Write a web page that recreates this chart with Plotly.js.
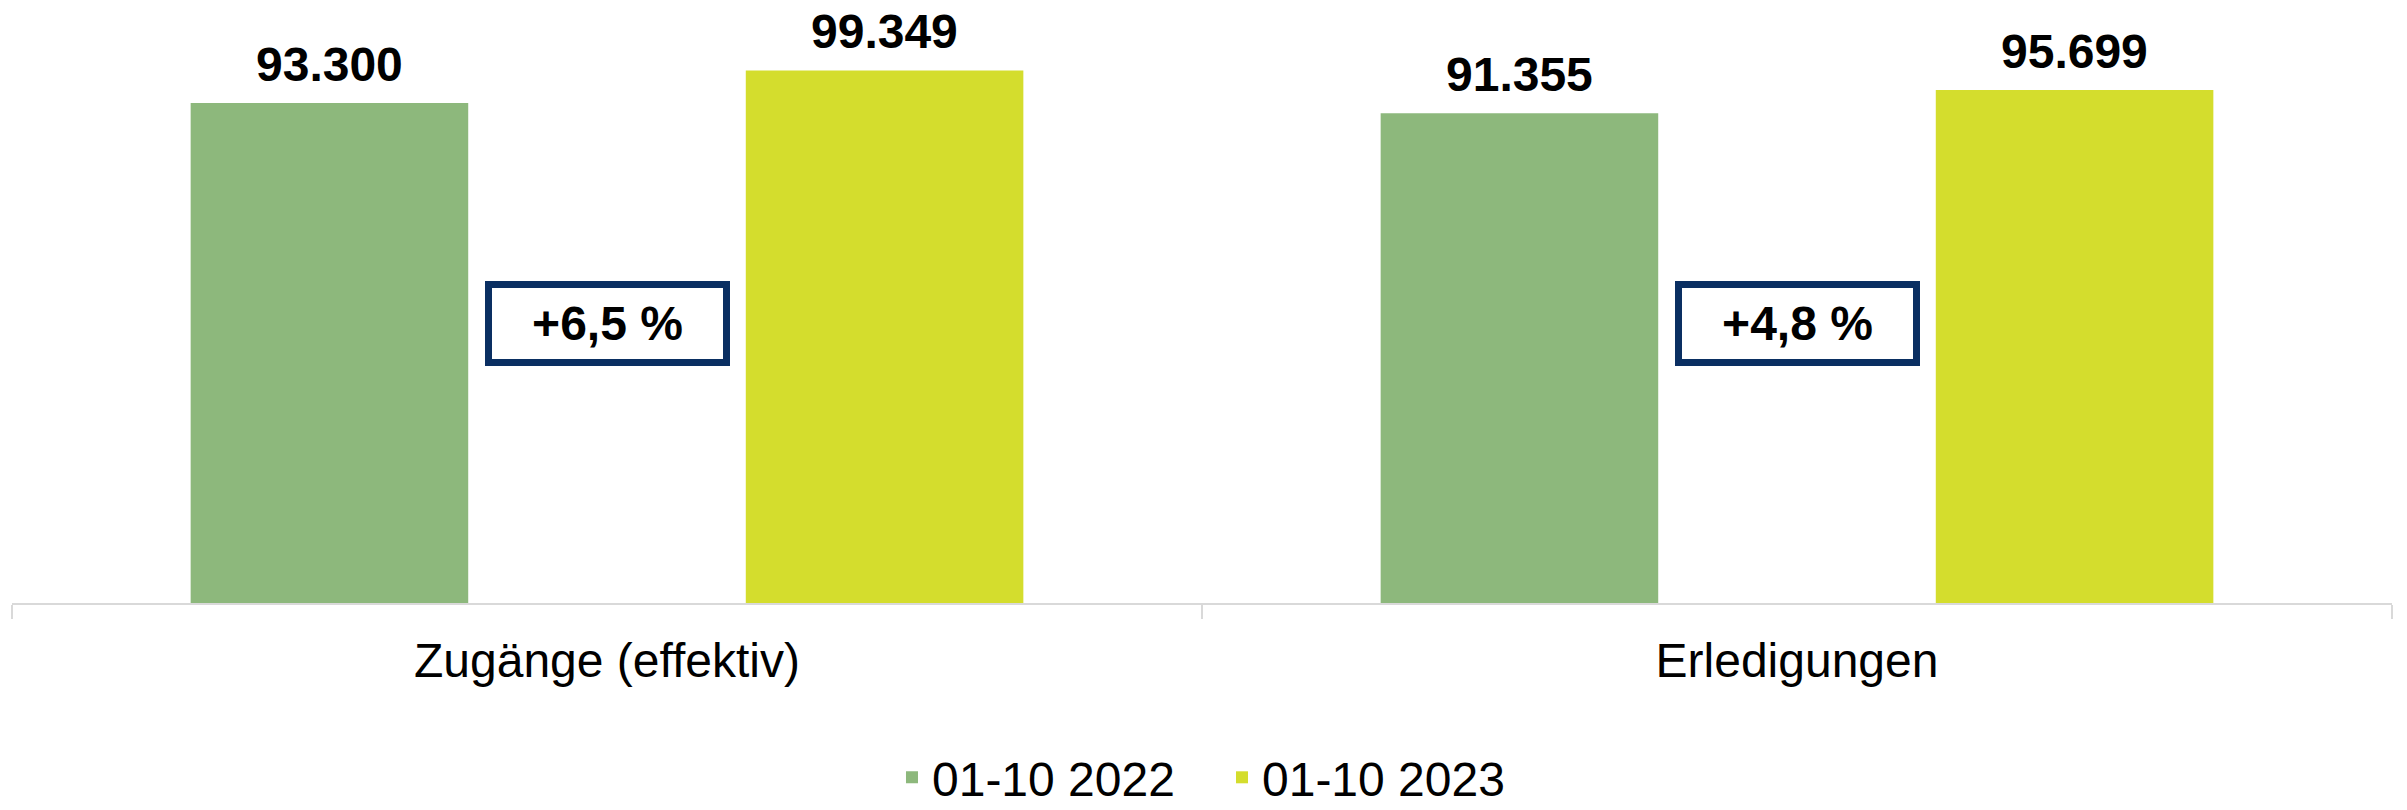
<!DOCTYPE html>
<html>
<head>
<meta charset="utf-8">
<script src="https://cdn.plot.ly/plotly-3.0.1.min.js"></script>
<style>
  html, body { margin: 0; padding: 0; background: #ffffff; }
  #chart { width: 2407px; height: 810px; }
</style>
</head>
<body>
<div id="chart"></div>
<script>
// ---- data ----
const categories = ["Zugänge (effektiv)", "Erledigungen"];
const seriesNames = ["01-10 2022", "01-10 2023"];
const values2022 = [93300, 91355];
const values2023 = [99349, 95699];
const changeLabels = ["+6,5 %", "+4,8 %"];

// ---- styles ----
const FONT = "Liberation Sans, Arial, sans-serif";
const GREEN = "#8DB87C";
const YELLOW = "#D4DD2D";
const NAVY = "#0A2F62";
const BARGAP = 0.067;
const BARGROUPGAP = 0.5;

const series = [values2022, values2023];
const colors = [GREEN, YELLOW];

const traces = series.map((vals, s) => ({
  type: "bar", name: seriesNames[s], x: categories, y: vals,
  marker: { color: colors[s] },
  hoverinfo: "skip"
}));

// value labels placed above each bar (slot centre of a grouped bar)
const slot = (1 - BARGAP) / series.length;
const valueLabels = [];
series.forEach((vals, s) => {
  vals.forEach((v, i) => {
    valueLabels.push({
      x: i + (s - (series.length - 1) / 2) * slot, xref: "x",
      y: v, yref: "y", xanchor: "center", yanchor: "bottom", yshift: 10,
      text: v.toLocaleString("de-DE"), showarrow: false,
      font: { family: FONT, size: 48, color: "#000000", weight: "bold" }
    });
  });
});

const changeBoxes = categories.map((c, i) => ({
  x: i, xref: "x", y: 0.464, yref: "paper",
  xanchor: "center", yanchor: "middle",
  text: changeLabels[i], showarrow: false,
  font: { family: FONT, size: 48, color: "#000000", weight: "bold" },
  bgcolor: "#ffffff", bordercolor: NAVY, borderwidth: 7, borderpad: 0,
  width: 231, height: 71
}));

const layout = {
  width: 2407, height: 810,
  margin: { l: 12, r: 15, t: 0, b: 207, pad: 0, autoexpand: false },
  paper_bgcolor: "#ffffff", plot_bgcolor: "#ffffff",
  separators: ",.",
  barmode: "group", bargap: BARGAP, bargroupgap: BARGROUPGAP,
  font: { family: FONT, size: 48, color: "#000000" },
  xaxis: {
    type: "category", range: [-0.5, 1.5],
    showline: true, linecolor: "#D9D9D9", linewidth: 2,
    ticks: "outside", tickson: "boundaries", ticklen: 14, tickwidth: 1.5, tickcolor: "#D9D9D9",
    ticklabelstandoff: 14,
    tickfont: { family: FONT, size: 48, color: "#000000" },
    showgrid: false, zeroline: false, fixedrange: true, automargin: false
  },
  yaxis: {
    range: [0, 112500], visible: false, showgrid: false, zeroline: false, fixedrange: true
  },
  showlegend: true,
  legend: {
    orientation: "h", x: 0.5084, xanchor: "center",
    yref: "container", y: 0.04, yanchor: "middle",
    entrywidth: 285, entrywidthmode: "pixels",
    font: { family: FONT, size: 48, color: "#000000" },
    bgcolor: "rgba(0,0,0,0)", traceorder: "normal"
  },
  annotations: valueLabels.concat(changeBoxes)
};

Plotly.newPlot("chart", traces, layout, { displayModeBar: false, staticPlot: true });
</script>
</body>
</html>
